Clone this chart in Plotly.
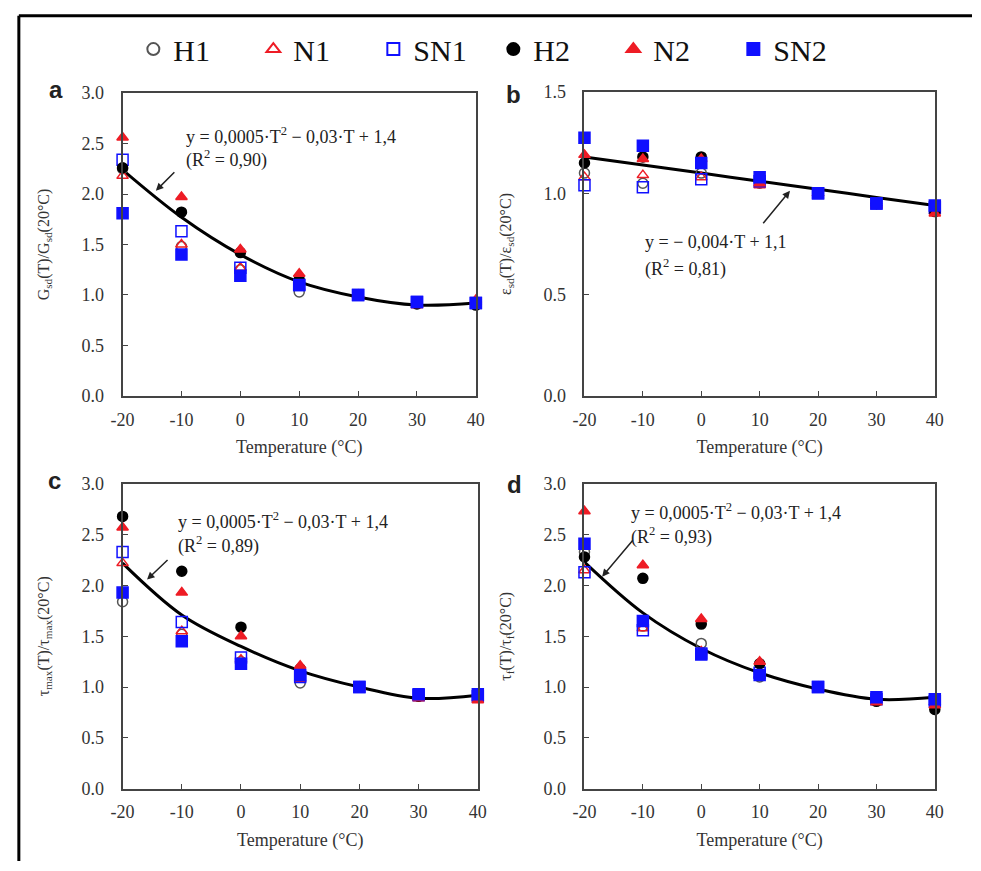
import plotly.graph_objects as go

T = [-20, -10, 0, 10, 20, 30, 40]
T_labels = ["-20", "-10", "0", "10", "20", "30", "40"]
series = ["H1", "N1", "SN1", "H2", "N2", "SN2"]

# Panel a: G_sd(T)/G_sd(20°C)
a_H1 = [2.25, 1.48, 1.25, 1.03, 1.00, 0.92, 0.91]
a_N1 = [2.18, 1.50, 1.27, 1.08, 1.00, 0.90, 0.93]
a_SN1 = [2.34, 1.63, 1.27, 1.10, 1.00, 0.93, 0.92]
a_H2 = [2.26, 1.82, 1.42, 1.15, 1.00, 0.91, 0.90]
a_N2 = [2.56, 1.97, 1.45, 1.21, 1.00, 0.90, 0.95]
a_SN2 = [1.81, 1.40, 1.19, 1.10, 1.00, 0.93, 0.92]
a_fit = [2.24, 1.77, 1.40, 1.13, 0.98, 0.90, 0.92]

# Panel b: eps_sd(T)/eps_sd(20°C)
b_H1 = [1.10, 1.05, 1.10, 1.05, 1.00, 0.95, 0.92]
b_N1 = [1.08, 1.09, 1.08, 1.04, 1.00, 0.95, 0.91]
b_SN1 = [1.04, 1.03, 1.07, 1.06, 1.00, 0.95, 0.93]
b_H2 = [1.15, 1.18, 1.18, 1.07, 1.00, 0.95, 0.91]
b_N2 = [1.19, 1.17, 1.17, 1.05, 1.00, 0.94, 0.90]
b_SN2 = [1.275, 1.235, 1.15, 1.08, 1.00, 0.95, 0.94]
b_fit = [1.18, 1.14, 1.10, 1.06, 1.02, 0.98, 0.94]

# Panel c: tau_max(T)/tau_max(20°C)
c_H1 = [1.84, 1.52, 1.25, 1.04, 1.00, 0.91, 0.90]
c_N1 = [2.22, 1.55, 1.27, 1.08, 1.00, 0.90, 0.89]
c_SN1 = [2.33, 1.64, 1.29, 1.10, 1.00, 0.92, 0.91]
c_H2 = [2.68, 2.14, 1.59, 1.18, 1.00, 0.91, 0.90]
c_N2 = [2.57, 1.93, 1.50, 1.21, 1.00, 0.89, 0.87]
c_SN2 = [1.93, 1.45, 1.23, 1.12, 1.00, 0.93, 0.93]
c_fit = [2.22, 1.71, 1.40, 1.16, 1.00, 0.89, 0.92]

# Panel d: tau_f(T)/tau_f(20°C)
d_H1 = [2.33, 1.60, 1.43, 1.10, 1.00, 0.87, 0.85]
d_N1 = [2.15, 1.58, 1.35, 1.12, 1.00, 0.87, 0.85]
d_SN1 = [2.13, 1.56, 1.33, 1.14, 1.00, 0.88, 0.86]
d_H2 = [2.28, 2.07, 1.62, 1.23, 1.00, 0.86, 0.78]
d_N2 = [2.73, 2.20, 1.67, 1.25, 1.00, 0.85, 0.82]
d_SN2 = [2.41, 1.65, 1.32, 1.12, 1.00, 0.90, 0.88]
d_fit = [2.23, 1.73, 1.38, 1.14, 0.98, 0.88, 0.90]

panels = [
    ([a_H1, a_N1, a_SN1, a_H2, a_N2, a_SN2], a_fit),
    ([b_H1, b_N1, b_SN1, b_H2, b_N2, b_SN2], b_fit),
    ([c_H1, c_N1, c_SN1, c_H2, c_N2, c_SN2], c_fit),
    ([d_H1, d_N1, d_SN1, d_H2, d_N2, d_SN2], d_fit),
]

RED = "#ee1c25"
BLUE = "#1010ff"
styles = {
    "H1": dict(symbol="circle-open", color="#555555", size=10),
    "N1": dict(symbol="triangle-up-open", color=RED, size=10),
    "SN1": dict(symbol="square-open", color=BLUE, size=11),
    "H2": dict(symbol="circle", color="#000000", size=10),
    "N2": dict(symbol="triangle-up", color=RED, size=10),
    "SN2": dict(symbol="square", color=BLUE, size=11),
}

W, H = 981, 871
def px_x(p):
    return p / W
def px_y(p):
    return 1 - p / H

dom = [
    ((113, 474), (85, 395)),
    ((585, 943), (84, 395)),
    ((113, 476), (485, 797)),
    ((585, 943), (485, 797)),
]

fig = go.Figure()
for i, (vals, fit) in enumerate(panels):
    sfx = "" if i == 0 else str(i + 1)
    xa, ya = "x" + sfx, "y" + sfx
    fig.add_trace(go.Scatter(x=T, y=fit, mode="lines", line=dict(color="black", width=3, shape="spline"),
                             xaxis=xa, yaxis=ya, showlegend=False, hoverinfo="skip"))
    for name, v in zip(series, vals):
        s = styles[name]
        fig.add_trace(go.Scatter(
            x=T, y=v, mode="markers", name=name, legendgroup=name,
            showlegend=(i == 0), xaxis=xa, yaxis=ya, cliponaxis=False,
            marker=dict(symbol=s["symbol"], color=s["color"], size=s["size"],
                        line=dict(color=s["color"], width=1.5)),
        ))

ytitles = [
    "G<sub>sd</sub>(T)/G<sub>sd</sub>(20°C)",
    "ε<sub>sd</sub>(T)/ε<sub>sd</sub>(20°C)",
    "τ<sub>max</sub>(T)/τ<sub>max</sub>(20°C)",
    "τ<sub>f</sub>(T)/τ<sub>f</sub>(20°C)",
]
yranges = [[0, 3], [0, 1.5], [0, 3], [0, 3]]
ydticks = [0.5, 0.5, 0.5, 0.5]

tickfont = dict(family="Liberation Serif", size=18, color="#333333")
axline = "#444444"
layout = {}
for i in range(4):
    sfx = "" if i == 0 else str(i + 1)
    (x0, x1), (y0, y1) = dom[i]
    layout["xaxis" + sfx] = dict(
        domain=[px_x(x0), px_x(x1)], anchor="y" + sfx, range=[-20, 40],
        tickvals=T, ticktext=T_labels, ticks="inside", ticklen=5, tickcolor=axline, tickwidth=1,
        showline=True, linecolor=axline, linewidth=2, mirror=True, showgrid=False, zeroline=False,
        tickfont=tickfont, ticklabelstandoff=6,
        title=dict(text="Temperature (°C)", font=dict(family="Liberation Serif", size=18, color="#333333"), standoff=12),
    )
    layout["yaxis" + sfx] = dict(
        domain=[px_y(y1), px_y(y0)], anchor="x" + sfx, range=yranges[i],
        dtick=ydticks[i], tick0=0, tickformat=".1f", ticks="inside", ticklen=5, tickcolor=axline, tickwidth=1,
        showline=True, linecolor=axline, linewidth=2, mirror=True, showgrid=False, zeroline=False,
        tickfont=tickfont, ticklabelstandoff=13,
        title=dict(text=ytitles[i], font=dict(family="Liberation Serif", size=16, color="#333333"), standoff=28),
    )

eq2 = "y = 0,0005·T<sup>2</sup> − 0,03·T + 1,4"
annos = [
    dict(xref="paper", yref="paper", x=px_x(45), y=px_y(81), text="<b>a</b>"),
    dict(xref="paper", yref="paper", x=px_x(512), y=px_y(86), text="<b>b</b>"),
    dict(xref="paper", yref="paper", x=px_x(43), y=px_y(482), text="<b>c</b>"),
    dict(xref="paper", yref="paper", x=px_x(514), y=px_y(486), text="<b>d</b>"),
]
for a in annos:
    a.update(showarrow=False, font=dict(family="Liberation Sans", size=24, color="#222222"),
             xanchor="center", yanchor="middle")

def eqtext(x, y, lines, gap=25):
    out = []
    for k, t in enumerate(lines):
        out.append(dict(xref="paper", yref="paper", x=px_x(x), y=px_y(y + gap * k), text=t,
                        showarrow=False, xanchor="left", yanchor="middle",
                        font=dict(family="Liberation Serif", size=18, color="#222222")))
    return out

annos += eqtext(176, 128, [eq2, "(R<sup>2</sup> = 0,90)"], 24)
annos += eqtext(645, 237, ["y = − 0,004·T + 1,1", "(R<sup>2</sup> = 0,81)"], 27)
annos += eqtext(168, 522, [eq2, "(R<sup>2</sup> = 0,89)"], 26)
annos += eqtext(630, 513, [eq2, "(R<sup>2</sup> = 0,93)"], 25)

arrows = [((167, 165), (147, 185)), ((767, 219), (795, 185)), ((160, 562), (138, 583)), ((635, 542), (603, 580))]
for (tx, ty), (hx, hy) in arrows:
    annos.append(dict(xref="paper", yref="paper", axref="pixel", ayref="pixel",
                      x=px_x(hx), y=px_y(hy), ax=tx - hx, ay=ty - hy, text="",
                      showarrow=True, arrowhead=2, arrowsize=1, arrowwidth=1.5, arrowcolor="#222222"))

shapes = [
    dict(type="line", xref="paper", yref="paper", x0=px_x(7), x1=px_x(7), y0=0, y1=px_y(6),
         line=dict(color="black", width=3)),
    dict(type="line", xref="paper", yref="paper", x0=px_x(7), x1=1, y0=px_y(6), y1=px_y(6),
         line=dict(color="black", width=3)),
]

fig.update_layout(
    width=W, height=H, margin=dict(l=0, r=0, t=0, b=0),
    paper_bgcolor="white", plot_bgcolor="white",
    showlegend=True,
    legend=dict(orientation="h", x=px_x(124), y=px_y(40), xanchor="left", yanchor="middle",
                font=dict(family="Liberation Serif", size=30, color="#111111"),
                itemsizing="constant", entrywidth=75, entrywidthmode="pixels",
                bgcolor="rgba(0,0,0,0)", tracegroupgap=0),
    annotations=annos, shapes=shapes,
    **layout,
)

fig.write_html("out.html")
